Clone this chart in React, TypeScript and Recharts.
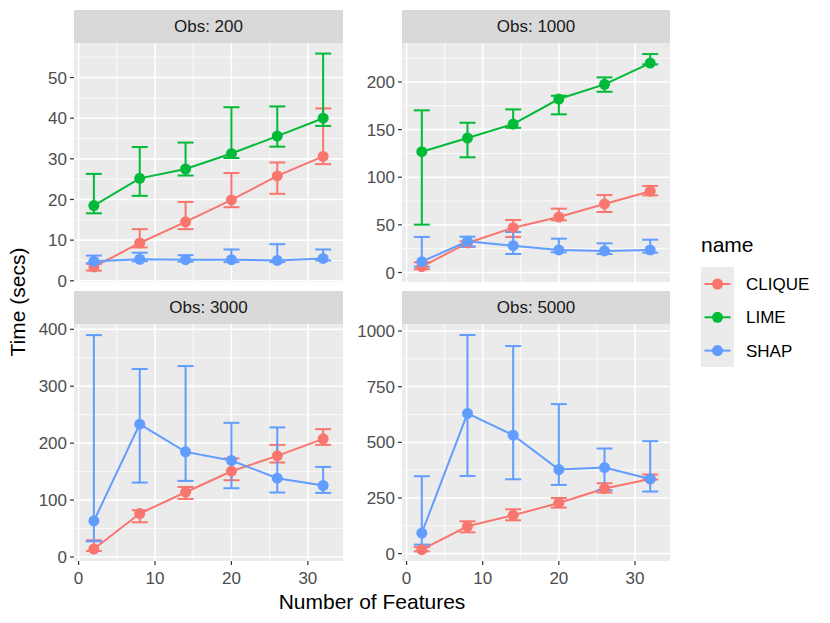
import React from 'react';
import { ComposedChart, Line, XAxis, YAxis, CartesianGrid, ErrorBar } from 'recharts';

// Number of features on the x axis (shared by all facets)
const features = [2, 8, 14, 20, 26, 32];

// Obs: 200
const clique200 = [3.4, 9.3, 14.5, 19.9, 25.8, 30.6];
const clique200Lo = [2.5, 8.2, 12.7, 18.1, 21.4, 28.7];
const clique200Hi = [4.2, 12.7, 19.4, 26.5, 29.1, 42.4];
const lime200 = [18.5, 25.2, 27.5, 31.3, 35.6, 40.0];
const lime200Lo = [16.6, 20.9, 25.9, 30.2, 33.0, 38.1];
const lime200Hi = [26.3, 32.9, 34.0, 42.7, 42.9, 55.9];
const shap200 = [4.8, 5.3, 5.2, 5.2, 5.0, 5.5];
const shap200Lo = [4.3, 4.8, 4.7, 4.6, 4.6, 5.0];
const shap200Hi = [6.2, 6.9, 6.3, 7.7, 9.0, 7.7];

// Obs: 1000
const clique1000 = [6.1, 31, 47, 58.2, 71.9, 85.2];
const clique1000Lo = [3.4, 27.1, 37.3, 54.8, 63.5, 81];
const clique1000Hi = [10.7, 32.7, 55.1, 67, 81.3, 90.8];
const lime1000 = [126.8, 141.1, 155.8, 182.1, 197.5, 219.8];
const lime1000Lo = [50.2, 120.9, 151.9, 166, 189.7, 218.5];
const lime1000Hi = [170.2, 157.2, 171.2, 185.5, 204.8, 229.3];
const shap1000 = [11.3, 32.7, 28.1, 23.6, 22.6, 23.6];
const shap1000Lo = [6.1, 27.1, 19.4, 21.2, 19.4, 20.8];
const shap1000Hi = [37.3, 37.6, 42.5, 35.5, 30.6, 34.4];

// Obs: 3000 (no LIME runs)
const clique3000 = [14.1, 76.3, 113.8, 150.7, 177.7, 207.6];
const clique3000Lo = [10.6, 61, 102, 134.9, 166, 197];
const clique3000Hi = [29.4, 82.1, 123.1, 173.1, 197, 224.6];
const shap3000 = [63.3, 233.4, 184.7, 169.6, 138.4, 125.6];
const shap3000Lo = [27.6, 130.8, 133.7, 120.8, 113.3, 112.6];
const shap3000Hi = [389.8, 330.2, 335.4, 235.7, 227.6, 158.3];

// Obs: 5000 (no LIME runs)
const clique5000 = [18, 122.8, 172.3, 227.6, 292.4, 335.6];
const clique5000Lo = [10.3, 95.8, 149.8, 206.9, 274.4, 332.9];
const clique5000Hi = [29.7, 145.3, 199.3, 250.1, 316.2, 355.4];
const shap5000 = [92.7, 629.8, 532, 377.8, 386.8, 335.6];
const shap5000Lo = [40.5, 349, 334, 308.7, 284.7, 278.9];
const shap5000Hi = [347.7, 982, 932.5, 671.6, 472.3, 505.2];

const COLORS = { CLIQUE: '#F8766D', LIME: '#00BA38', SHAP: '#619CFF' };
const NAMES = ['CLIQUE', 'LIME', 'SHAP'];

const FONT = '"Liberation Sans", Arial, Helvetica, sans-serif';

type Series = { name: string; mid: number[]; lo: number[]; hi: number[] };

function buildRows(series: Series[]) {
  return features.map((f, i) => {
    const row: any = { features: f };
    series.forEach((s) => {
      row[s.name] = s.mid[i];
      row[s.name + 'Err'] = [s.mid[i] - s.lo[i], s.hi[i] - s.mid[i]];
    });
    return row;
  });
}

const X_DOMAIN = [-0.6, 34.6];
const X_TICKS = [0, 10, 20, 30];
const X_MINOR = [5, 15, 25];

function Panel({ title, series, yDomain, yTicks, yMinor, showX, left, top, width, height }: any) {
  const rows = buildRows(series);
  const axisW = 60;
  const axisH = showX ? 30 : 0;
  // room above/below the panel so edge tick labels are not clipped
  const padTop = 12;
  const padBottom = showX ? 0 : 12;
  return (
    <>
      <div
        style={{
          position: 'absolute', left, top: top - 33, width, height: 33,
          background: '#D9D9D9', color: '#1A1A1A', fontSize: 17,
          lineHeight: '33px', textAlign: 'center',
        }}
      >
        {title}
      </div>
      <div style={{ position: 'absolute', left: left - axisW, top: top - padTop }}>
        <ComposedChart
          width={width + axisW}
          height={height + axisH + padTop + padBottom}
          data={rows}
          margin={{ top: padTop, right: 0, bottom: padBottom, left: 0 }}
        >
          <CartesianGrid
            fill="#EBEBEB"
            fillOpacity={1}
            stroke="#FFFFFF"
            strokeWidth={0.8}
            horizontalValues={yMinor}
            verticalValues={X_MINOR}
          />
          <CartesianGrid
            stroke="#FFFFFF"
            strokeWidth={1.6}
            horizontalValues={yTicks}
            verticalValues={X_TICKS}
          />
          <XAxis
            type="number"
            dataKey="features"
            domain={X_DOMAIN}
            ticks={X_TICKS}
            allowDataOverflow
            hide={!showX}
            height={axisH}
            interval={0}
            axisLine={false}
            tickLine={{ stroke: '#333333', strokeWidth: 1.2 }}
            tickSize={4}
            tickMargin={7}
            tick={{ fill: '#4D4D4D', fontSize: 17 }}
          />
          <YAxis
            type="number"
            domain={yDomain}
            ticks={yTicks}
            allowDataOverflow
            width={axisW}
            interval={0}
            axisLine={false}
            tickLine={{ stroke: '#333333', strokeWidth: 1.2 }}
            tickSize={4}
            tickMargin={3}
            tick={{ fill: '#4D4D4D', fontSize: 17 }}
          />
          {series.map((s: Series) => (
            <Line
              key={s.name}
              type="linear"
              dataKey={s.name}
              stroke={(COLORS as any)[s.name]}
              strokeWidth={2}
              dot={{ r: 5.5, fill: (COLORS as any)[s.name], stroke: 'none' }}
              activeDot={false}
              isAnimationActive={false}
            >
              <ErrorBar
                dataKey={s.name + 'Err'}
                direction="y"
                width={8}
                stroke={(COLORS as any)[s.name]}
                strokeWidth={2}
                isAnimationActive={false}
              />
            </Line>
          ))}
        </ComposedChart>
      </div>
    </>
  );
}

function Legend() {
  return (
    <>
      <div style={{ position: 'absolute', left: 701, top: 233, fontSize: 21, color: '#000' }}>name</div>
      <svg style={{ position: 'absolute', left: 701, top: 267 }} width={120} height={101}>
        <rect x={0} y={0} width={33} height={100} fill="#EBEBEB" />
        {NAMES.map((n, i) => {
          const cy = 17 + i * 33.3;
          const c = (COLORS as any)[n];
          return (
            <g key={n}>
              <line x1={3.5} x2={29.5} y1={cy} y2={cy} stroke={c} strokeWidth={2} />
              <circle cx={16.5} cy={cy} r={5.5} fill={c} />
              <text x={45} y={cy} dy="0.35em" fontSize={17} fill="#000">{n}</text>
            </g>
          );
        })}
      </svg>
    </>
  );
}

export default function App() {
  const s200 = [
    { name: 'CLIQUE', mid: clique200, lo: clique200Lo, hi: clique200Hi },
    { name: 'LIME', mid: lime200, lo: lime200Lo, hi: lime200Hi },
    { name: 'SHAP', mid: shap200, lo: shap200Lo, hi: shap200Hi },
  ];
  const s1000 = [
    { name: 'CLIQUE', mid: clique1000, lo: clique1000Lo, hi: clique1000Hi },
    { name: 'LIME', mid: lime1000, lo: lime1000Lo, hi: lime1000Hi },
    { name: 'SHAP', mid: shap1000, lo: shap1000Lo, hi: shap1000Hi },
  ];
  const s3000 = [
    { name: 'CLIQUE', mid: clique3000, lo: clique3000Lo, hi: clique3000Hi },
    { name: 'SHAP', mid: shap3000, lo: shap3000Lo, hi: shap3000Hi },
  ];
  const s5000 = [
    { name: 'CLIQUE', mid: clique5000, lo: clique5000Lo, hi: clique5000Hi },
    { name: 'SHAP', mid: shap5000, lo: shap5000Lo, hi: shap5000Hi },
  ];

  return (
    <div
      style={{
        position: 'absolute', left: 0, top: 0, width: 830, height: 623,
        background: '#FFFFFF', fontFamily: FONT, overflow: 'hidden',
      }}
    >
      <Panel
        title="Obs: 200" series={s200}
        yDomain={[-0.3, 58.5]} yTicks={[0, 10, 20, 30, 40, 50]} yMinor={[5, 15, 25, 35, 45, 55]}
        showX={false} left={74} top={43} width={269} height={239}
      />
      <Panel
        title="Obs: 1000" series={s1000}
        yDomain={[-10, 240.9]} yTicks={[0, 50, 100, 150, 200]} yMinor={[25, 75, 125, 175, 225]}
        showX={false} left={402} top={43} width={268} height={239}
      />
      <Panel
        title="Obs: 3000" series={s3000}
        yDomain={[-7, 409.3]} yTicks={[0, 100, 200, 300, 400]} yMinor={[50, 150, 250, 350]}
        showX={true} left={74} top={324} width={269} height={237}
      />
      <Panel
        title="Obs: 5000" series={s5000}
        yDomain={[-33, 1031.5]} yTicks={[0, 250, 500, 750, 1000]} yMinor={[125, 375, 625, 875]}
        showX={true} left={402} top={324} width={268} height={237}
      />
      <div
        style={{
          position: 'absolute', left: 74, width: 596, top: 589, height: 26,
          lineHeight: '26px', textAlign: 'center', fontSize: 21, color: '#000',
        }}
      >
        Number of Features
      </div>
      <div
        style={{
          position: 'absolute', left: 18 - 80, top: 302 - 13, width: 160, height: 26,
          lineHeight: '26px', textAlign: 'center', fontSize: 21, color: '#000',
          transform: 'rotate(-90deg)',
        }}
      >
        Time (secs)
      </div>
      <Legend />
    </div>
  );
}
